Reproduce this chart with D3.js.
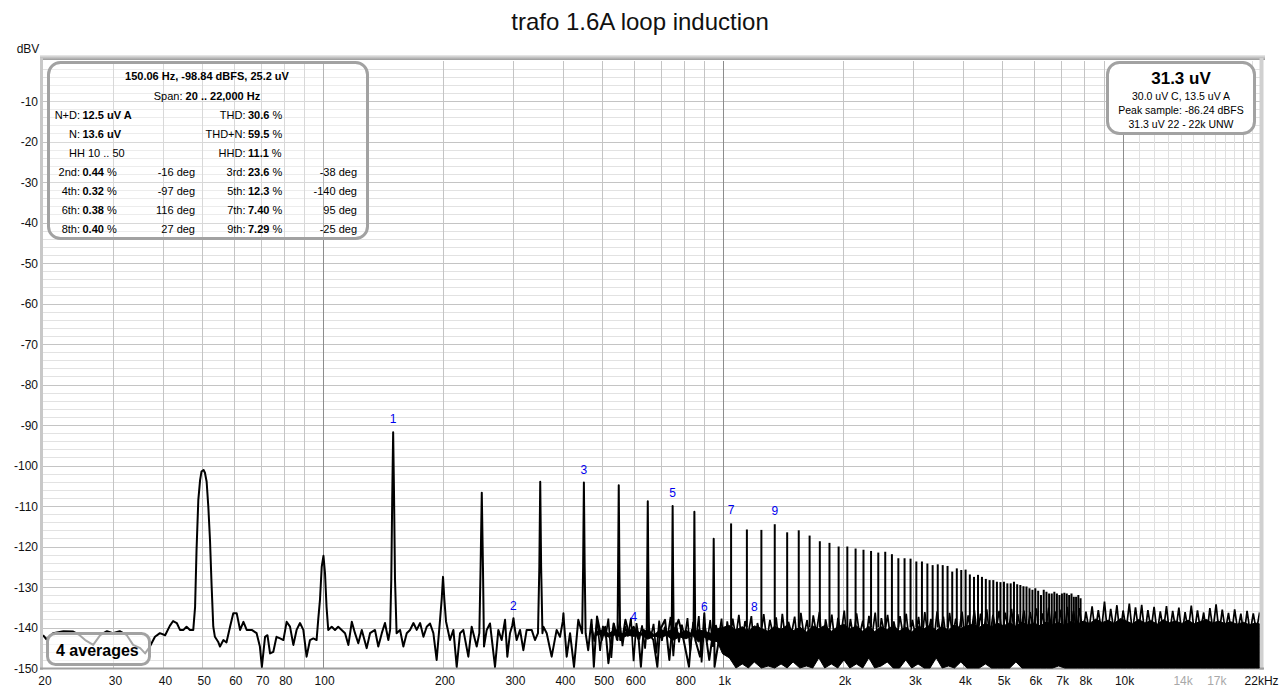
<!DOCTYPE html>
<html><head><meta charset="utf-8">
<script src="https://cdn.jsdelivr.net/npm/d3@7"></script>
<style>
body{margin:0;background:#fff;}
svg{display:block;font-family:"Liberation Sans",Arial,sans-serif;}
</style>
</head><body>
<svg id="c" width="1280" height="692"></svg>
<script>
// ---------------- DATA ----------------
const chartTitle = "trafo 1.6A loop induction";
const yUnit = "dBV";
const yTickValues = [-10,-20,-30,-40,-50,-60,-70,-80,-90,-100,-110,-120,-130,-140,-150];
const xTickValues = [20,30,40,50,60,70,80,100,200,300,400,500,600,800,1000,2000,3000,4000,5000,6000,7000,8000,10000,14000,17000,22000];
const xTickLabels = ["20","30","40","50","60","70","80","100","200","300","400","500","600","800","1k","2k","3k","4k","5k","6k","7k","8k","10k","14k","17k","22kHz"];
const xTickMuted = ["14k","17k"];

// Spectrum trace, 20 Hz .. ~1 kHz (Hz, dBV)
const traceFreq = [20.0,20.4,21.2,22.5,23.8,24.7,25.5,26.7,27.8,28.9,29.9,31.1,32.4,33.6,35.0,36.0,37.0,38.1,39.2,40.4,
 41.5,42.3,43.2,44.0,44.9,45.7,46.6,47.5,48.0,48.4,48.9,49.4,49.8,50.4,50.8,51.3,51.8,52.3,52.8,53.3,
 53.8,54.8,55.4,56.5,57.5,58.7,59.8,61.0,62.2,63.4,64.6,66.5,68.4,69.7,70.5,71.8,72.8,73.9,75.3,76.7,
 78.3,79.8,81.3,82.9,84.5,86.1,87.8,89.5,91.2,93.0,94.8,96.6,97.5,98.5,99.5,100.5,101.4,102.3,103.3,105.4,
 107.4,109.4,111.6,113.8,116.0,118.3,120.5,122.8,125.3,128.9,131.4,135.2,137.8,140.6,143.2,146.0,147.5,148.5,149.3,150.1,
 150.9,151.7,153.1,156.2,159.2,162.3,165.4,168.7,171.9,175.3,178.7,182.1,185.6,189.2,192.8,196.6,198.5,200.0,201.5,203.5,
 208.2,212.3,216.4,220.6,224.8,231.4,235.9,242.8,246.5,248.3,250.0,251.7,253.2,257.2,262.1,269.8,275.0,280.3,285.8,289.6,
 294.1,298.0,300.0,302.0,305.6,311.6,317.6,323.7,333.2,339.6,345.5,348.2,350.0,351.8,354.5,356.4,363.3,373.8,384.7,392.2,
 398.5,400.0,401.5,407.6,415.5,425.1,435.7,445.5,448.0,450.0,452.0,454.5,461.3,470.2,476.5,485.3,499.0,508.8,518.2,534.0,
 546.0,548.0,550.0,552.0,554.5,561.0,571.5,582.7,599.2,616.9,624.8,634.8,646.0,648.0,650.0,652.0,654.5,671.2,686.8,697.5,
 718.0,736.0,746.0,748.0,750.0,752.0,754.5,776.0,798.9,824.0,838.0,846.0,848.0,850.0,852.0,854.5,878.1,894.4,900.0,905.0,
 926.0,946.0,948.0,950.0,952.0,954.5,985.0,1008.0,1023.0,1040.0];
const traceDb = [-141.9,-142.9,-141.4,-140.9,-141.0,-141.9,-143.1,-144.3,-141.9,-140.9,-141.4,-140.9,-141.9,-144.3,-145.1,-146.4,-144.7,-142.3,-141.4,-141.9,
 -139.6,-138.4,-138.9,-140.6,-140.6,-139.8,-140.6,-140.6,-134.9,-120.9,-108.5,-103.6,-101.5,-101.1,-101.8,-104.0,-110.2,-118.4,-129.9,-139.8,
 -142.3,-143.5,-144.7,-143.1,-143.7,-139.8,-136.5,-136.5,-140.6,-138.6,-140.6,-140.6,-141.4,-144.7,-149.7,-142.3,-141.9,-146.4,-146.0,-142.3,
 -142.7,-143.1,-138.6,-139.8,-144.3,-140.6,-138.9,-140.6,-147.2,-143.1,-142.7,-143.1,-138.1,-133.2,-125.0,-122.3,-126.6,-134.9,-140.6,-139.8,
 -140.6,-139.8,-140.6,-141.4,-144.3,-138.6,-141.4,-143.9,-140.6,-145.1,-141.4,-140.6,-144.7,-141.4,-138.9,-143.1,-140.6,-128.0,-108.0,-91.8,
 -108.0,-128.0,-141.4,-140.6,-144.7,-141.4,-140.6,-138.9,-140.6,-138.9,-142.3,-139.8,-139.0,-141.4,-148.0,-138.1,-133.0,-127.5,-133.0,-138.5,
 -143.1,-140.6,-149.7,-141.4,-140.6,-147.2,-139.8,-144.7,-141.4,-125.0,-106.7,-125.0,-144.7,-140.6,-139.0,-149.7,-140.6,-143.1,-138.1,-147.2,
 -141.4,-139.5,-137.7,-140.0,-143.1,-140.6,-145.6,-140.6,-140.6,-143.1,-141.4,-125.0,-104.0,-125.0,-141.4,-139.8,-141.4,-147.2,-140.6,-142.3,
 -138.5,-136.5,-139.0,-147.2,-141.4,-149.7,-138.1,-141.4,-125.0,-104.2,-125.0,-141.4,-145.6,-138.1,-149.7,-137.3,-143.1,-139.8,-148.8,-139.0,
 -143.1,-125.0,-104.9,-125.0,-143.1,-143.1,-138.1,-141.4,-139.8,-143.1,-149.7,-140.6,-141.4,-126.0,-108.8,-126.0,-141.4,-143.1,-149.7,-140.6,
 -138.1,-148.0,-141.4,-127.0,-110.0,-127.0,-141.4,-138.1,-143.1,-149.7,-140.6,-141.4,-128.0,-111.4,-128.0,-143.1,-147.2,-140.6,-136.5,-141.0,
 -148.0,-141.4,-130.0,-118.1,-130.0,-149.7,-141.4,-143.1,-139.8,-141.0];

// Dense noise trace from ~470 Hz up (Hz, dBV), read as alternating local maxima / minima
const noiseFreq = [470,478,486,494,502,510,518,527,535,544,
 553,562,571,580,590,599,609,619,629,640,
 650,661,672,683,694,705,717,729,741,753,
 765,778,791,804,817,830,844,858,872,886,
 901,916,931,946,962,978,994,1010,1027,1044,
 1060,1079,1098,1118,1138,1159,1180,1201,1222,1244,
 1267,1290,1313,1337,1361,1385,1410,1435,1461,1487,
 1514,1541,1569,1597,1626,1655,1685,1715,1746,1777,
 1809,1842,1875,1909,1943,1978,2014,2050,2087,2124,
 2162,2201,2241,2281,2322,2364,2407,2450,2494,2539,
 2585,2631,2679,2727,2776,2826,2877,2929,2981,3035,
 3090,3145,3202,3259,3318,3378,3438,3500,3563,3627,
 3693,3759,3827,3896,3966,4037,4110,4184,4259,4336,
 4414,4493,4574,4656,4740,4825,4912,5001,5091,5182,
 5276,5371,5467,5566,5666,5768,5872,5978,6085,6195,
 6306,6420,6535,6653,6773,6894,7018,7145,7273,7404,
 7537,7673,7811,7952,8095,8241,8389,8540,8694,8850,
 9009,9172,9337,9505,9676,9850,10027,10208,10392,10579,
 10769,10963,11160,11361,11566,11774,11986,12202,12421,12645,
 12872,13104,13340,13580,13824,14073,14327,14584,14847,15114,
 15386,15663,15945,16232,16524,16822,17124,17433,17746,18066,
 18391,18722,19059,19402,19751,20107,20469,20837,21212,21594,
 22000];
const noiseDb = [-139.2,-143.5,-138.1,-145.8,-139.6,-142.4,-137.8,-147.5,-139.0,-143.1,
 -138.4,-144.6,-139.7,-142.2,-137.6,-148.3,-138.9,-143.0,-139.5,-145.2,
 -137.9,-142.6,-139.1,-146.4,-138.3,-143.3,-139.8,-142.1,-137.4,-147.1,
 -138.8,-143.7,-139.3,-142.5,-137.7,-145.9,-138.6,-142.9,-137.2,-148.6,
 -139.0,-143.4,-138.2,-144.8,-139.4,-142.3,-137.8,-146.7,-138.5,-143.0,
 -137.8,-142.5,-136.9,-144.0,-138.4,-141.6,-137.2,-146.0,-138.9,-142.2,
 -136.7,-143.4,-138.1,-141.8,-137.5,-145.2,-136.6,-142.7,-138.6,-141.5,
 -137.3,-144.6,-136.4,-142.0,-138.2,-143.8,-137.0,-141.4,-136.2,-145.5,
 -138.0,-142.3,-136.8,-143.9,-137.6,-141.7,-135.8,-144.2,-137.9,-142.6,
 -136.5,-141.9,-138.3,-143.5,-137.1,-142.1,-136.3,-144.8,-137.7,-141.6,
 -136.9,-143.2,-138.5,-142.4,-137.2,-141.8,-136.6,-143.7,-138.1,-142.0,
 -137.4,-144.1,-136.2,-141.9,-137.9,-142.8,-136.0,-141.5,-137.3,-143.6,
 -136.4,-142.2,-137.8,-141.4,-136.1,-143.0,-137.0,-141.6,-135.7,-142.5,
 -136.6,-141.3,-135.5,-142.7,-136.9,-140.8,-135.9,-142.0,-136.3,-141.2,
 -135.4,-142.4,-136.7,-140.9,-135.8,-141.8,-136.2,-140.6,-135.3,-142.1,
 -136.5,-141.0,-135.1,-141.7,-136.0,-140.7,-135.6,-142.3,-134.9,-141.1,
 -135.9,-140.8,-135.2,-141.9,-136.1,-140.5,-134.8,-141.4,-135.7,-140.9,
 -133.6,-141.6,-135.4,-140.7,-134.5,-142.0,-135.8,-140.6,-134.1,-141.3,
 -135.0,-140.9,-134.4,-141.8,-135.7,-140.6,-134.9,-141.5,-136.0,-140.8,
 -134.7,-141.7,-135.9,-140.7,-135.1,-142.1,-136.2,-140.9,-134.6,-141.4,
 -135.8,-140.8,-136.3,-141.9,-135.2,-140.6,-134.3,-141.5,-135.6,-140.9,
 -136.4,-141.7,-135.5,-140.8,-136.6,-142.0,-135.9,-141.2,-136.5,-140.9,
 -136.3];

// Solid body of the noise floor (Hz, upper dBV, lower dBV)
const bandFreq = [480,500,520,540,560,580,600,625,650,675,700,725,750,780,810,840,870,900,935,970,
 1000,1040,1080,1120,1160,1200,1250,1300,1350,1400,1450,1500,1560,1620,1680,1740,1800,1870,1940,2010,
 2080,2160,2240,2320,2400,2490,2580,2670,2770,2870,2970,3080,3190,3300,3420,3540,3670,3800,3940,4080,
 4230,4380,4540,4700,4870,5040,5220,5410,5600,5800,6010,6230,6450,6680,6920,7170,7430,7700,7980,8270,
 8570,8880,9200,9530,9870,10220,10590,10970,11370,11780,12200,12640,13100,13570,14060,14570,15090,15630,16190,16770,
 17380,18000,18650,19320,20020,20740,21480,22000];
const bandHi = [-141.2,-140.6,-141.5,-140.4,-141.6,-140.8,-140.5,-141.4,-140.6,-141.8,-140.4,-141.2,-140.3,-141.5,-140.7,-141.6,-140.5,-141.0,-141.4,-140.3,
 -140.0,-139.5,-140.6,-139.8,-140.9,-139.6,-140.2,-141.0,-139.7,-140.5,-139.4,-140.8,-139.9,-141.1,-139.6,-140.3,-139.5,-140.9,-139.8,-139.2,
 -140.4,-139.6,-140.9,-139.7,-141.0,-139.8,-140.5,-139.5,-140.8,-139.9,-141.1,-139.6,-140.3,-139.4,-140.7,-139.8,-140.6,-139.3,-140.2,-139.6,
 -139.2,-140.0,-139.0,-139.8,-138.9,-139.6,-138.8,-139.7,-138.7,-139.4,-138.9,-139.6,-138.6,-139.3,-138.8,-139.5,-138.5,-139.2,-138.4,-139.0,
 -137.9,-138.8,-138.2,-139.0,-137.8,-138.4,-139.1,-138.0,-138.9,-138.3,-139.2,-138.1,-138.8,-138.4,-139.0,-138.2,-139.1,-138.5,-138.0,-138.9,
 -138.4,-139.0,-138.6,-139.2,-138.7,-139.3,-138.9,-139.1];
const bandLo = [-142.0,-141.6,-142.4,-141.8,-142.6,-141.9,-142.2,-141.8,-142.9,-142.1,-142.5,-141.9,-143.2,-142.3,-142.8,-142.0,-143.6,-142.4,-143.2,-143.5,
 -146.5,-147.5,-150.0,-149.0,-150.0,-148.5,-150.0,-149.5,-150.0,-149.0,-150.0,-148.5,-150.0,-149.5,-150.0,-147.5,-150.0,-149.0,-150.0,-148.0,
 -150.0,-149.0,-150.0,-147.5,-150.0,-149.5,-148.5,-150.0,-150.0,-148.0,-150.0,-149.0,-150.0,-150.0,-147.5,-150.0,-149.5,-150.0,-148.5,-150.0,
 -150.0,-150.0,-149.0,-150.0,-150.0,-150.0,-150.0,-148.5,-150.0,-150.0,-150.0,-150.0,-150.0,-150.0,-149.5,-150.0,-150.0,-150.0,-150.0,-150.0,
 -150.0,-150.0,-150.0,-150.0,-150.0,-150.0,-150.0,-150.0,-150.0,-150.0,-150.0,-150.0,-150.0,-150.0,-150.0,-150.0,-150.0,-150.0,-150.0,-150.0,
 -150.0,-150.0,-150.0,-150.0,-150.0,-150.0,-150.0,-150.0];

// Hum-related spectral lines above 1 kHz (Hz, dBV)
const spikeFreq = [1050,1150,1250,1350,1450,1550,1650,1750,1850,1950,2050,2150,2250,2350,2450,2550,2650,2750,2850,2950,
 3050,3150,3250,3350,3450,3550,3650,3750,3850,3950,4050,4150,4250,4350,4450,4550,4650,4750,4850,4950,
 5050,5150,5250,5350,5450,5550,5650,5750,5850,5950,6050,6150,6250,6350,6450,6550,6650,6750,6850,6950,
 7050,7150,7250,7350,7450,7550,7650,7750,7850];
const spikeDb = [-114.3,-115.8,-115.9,-114.5,-116.5,-116.0,-117.3,-118.7,-119.1,-120.0,-120.0,-120.5,-120.8,-121.1,-121.5,-121.3,-121.9,-122.9,-122.9,-123.0,
 -123.7,-123.7,-124.2,-124.6,-124.4,-124.6,-124.8,-126.2,-125.4,-125.8,-125.7,-126.9,-127.5,-127.0,-127.5,-128.0,-128.3,-128.3,-128.7,-128.8,
 -128.7,-129.1,-129.1,-128.7,-129.3,-129.5,-129.8,-129.9,-130.3,-130.7,-130.3,-130.9,-132.0,-130.7,-131.2,-131.6,-131.6,-131.2,-131.6,-132.0,
 -131.6,-131.4,-131.6,-132.0,-131.6,-132.4,-132.4,-132.0,-132.8];

// Harmonic markers of the 150 Hz component
const markerLabels = ["1","2","3","4","5","6","7","8","9"];
const markerFreq = [150.06,300,450,600,750,900,1050,1200,1350];
const markerDb = [-91.8,-137.9,-104.2,-140.6,-110.0,-138.1,-114.3,-138.1,-114.5];

// Info box (top left)
const infoHeader = "150.06 Hz, -98.84 dBFS, 25.2 uV";
const infoSpanLabel = "Span: ";
const infoSpanValue = "20 .. 22,000 Hz";
const infoLeftLabels  = ["N+D:","N:","HH","2nd:","4th:","6th:","8th:"];
const infoLeftValues  = ["12.5 uV A","13.6 uV","","0.44","0.32","0.38","0.40"];
const infoLeftUnits   = ["","","10 .. 50"," %"," %"," %"," %"];
const infoLeftPhase   = ["","","","-16 deg","-97 deg","116 deg","27 deg"];
const infoRightLabels = ["THD:","THD+N:","HHD:","3rd:","5th:","7th:","9th:"];
const infoRightValues = ["30.6","59.5","11.1","23.6","12.3","7.40","7.29"];
const infoRightUnits  = [" %"," %"," %"," %"," %"," %"," %"];
const infoRightPhase  = ["","","","-38 deg","-140 deg","95 deg","-25 deg"];

// Level box (top right)
const levelMain = "31.3 uV";
const levelLines = ["30.0 uV C, 13.5 uV A","Peak sample: -86.24 dBFS","31.3 uV 22 - 22k UNW"];
const averagesText = "4 averages";

// ---------------- DRAW ----------------
const svg = d3.select("#c");
const L = 43, R = 1259.6, T = 60.5, B = 668;
const x = d3.scaleLog().domain([20,22000]).range([L,R]);
const y = d3.scaleLinear().domain([-150,0]).range([B,T]);
const px = v => Math.round(v) + 0.5;

svg.append("text").attr("x",640).attr("y",30).attr("text-anchor","middle")
  .attr("font-size",24).attr("fill","#111").text(chartTitle);

// grid
const grid = svg.append("g").attr("shape-rendering","crispEdges");
const hVals = d3.range(-148,0,2);
grid.selectAll("line.h").data(hVals).join("line")
  .attr("x1",L).attr("x2",R).attr("y1",d=>px(y(d))).attr("y2",d=>px(y(d)))
  .attr("stroke",d=>d%10===0?"#c4c4c4":"#e2e2e2");
const vVals = [];
[10,100,1000,10000].forEach(dec=>{for(let m=1;m<10;m++){const f=m*dec; if(f>20 && f<22000) vVals.push({f, kind: m===1?"dec":"min"});}});
d3.range(11000,22000,1000).forEach(f=>{ if(f!==20000) vVals.push({f, kind:"light"}); });
const vCol = {dec:"#8c8c8c", min:"#c4c4c4", light:"#e0e0e0"};
grid.selectAll("line.v").data(vVals).join("line")
  .attr("x1",d=>px(x(d.f))).attr("x2",d=>px(x(d.f))).attr("y1",T).attr("y2",B)
  .attr("stroke",d=>vCol[d.kind]);

// frame
const defs = svg.append("defs");
const grad = defs.append("linearGradient").attr("id","topg").attr("x1",0).attr("x2",0).attr("y1",0).attr("y2",1);
grad.append("stop").attr("offset","0%").attr("stop-color","#ececec");
grad.append("stop").attr("offset","100%").attr("stop-color","#9a9a9a");
svg.append("rect").attr("x",40).attr("y",55).attr("width",1225).attr("height",5).attr("fill","url(#topg)");
svg.append("rect").attr("x",40).attr("y",58).attr("width",3).attr("height",612).attr("fill","#c8c8c8");
svg.append("rect").attr("x",1259.5).attr("y",58).attr("width",4).attr("height",612).attr("fill","#d0d0d0");
svg.append("line").attr("x1",40).attr("x2",1264).attr("y1",668.5).attr("y2",668.5).attr("stroke","#a0a0a0").attr("stroke-width",2);

defs.append("clipPath").attr("id","clip").append("rect").attr("x",L).attr("y",T).attr("width",R-L).attr("height",B-T+1);
const plot = svg.append("g").attr("clip-path","url(#clip)");

// noise body
const band = bandFreq.map((f,i)=>({f, hi:bandHi[i], lo:bandLo[i]}));
plot.append("path").datum(band)
  .attr("d", d3.area().x(d=>x(d.f)).y0(d=>y(d.lo)).y1(d=>y(d.hi)))
  .attr("fill","#000").attr("stroke","#000").attr("stroke-width",1);

const line = d3.line().x(d=>x(d.f)).y(d=>y(d.v));
// dense noise trace
const noise = noiseFreq.map((f,i)=>({f, v:noiseDb[i]}));
plot.append("path").datum(noise)
  .attr("d", line)
  .attr("fill","none").attr("stroke","#000").attr("stroke-width",1.7).attr("stroke-linejoin","miter");

// low-frequency trace
const trace = traceFreq.map((f,i)=>({f, v:traceDb[i]}));
plot.append("path").datum(trace)
  .attr("d", line)
  .attr("fill","none").attr("stroke","#000").attr("stroke-width",2).attr("stroke-linejoin","round");

// spikes
plot.selectAll("line.sp").data(spikeFreq.map((f,i)=>({f,v:spikeDb[i]}))).join("line")
  .attr("x1",d=>x(d.f)).attr("x2",d=>x(d.f)).attr("y1",y(-140)).attr("y2",d=>y(d.v))
  .attr("stroke","#000").attr("stroke-width",2);

// harmonic markers
svg.selectAll("text.mk").data(markerLabels.map((t,i)=>({t,f:markerFreq[i],v:markerDb[i]}))).join("text")
  .attr("x",d=>x(d.f)).attr("y",d=>y(d.v)-9).attr("text-anchor","middle")
  .attr("font-size",12).attr("fill","#0000ee").text(d=>d.t);

// axis labels
svg.append("text").attr("x",28).attr("y",53).attr("text-anchor","middle").attr("font-size",12).attr("fill","#111").text(yUnit);
svg.selectAll("text.yt").data(yTickValues).join("text")
  .attr("x",38).attr("y",d=>y(d)+4.5).attr("text-anchor","end").attr("font-size",12).attr("fill","#111")
  .text(d=>d);
svg.selectAll("text.xt").data(xTickValues.map((f,i)=>({f,t:xTickLabels[i]}))).join("text")
  .attr("x",d=>x(d.f)+2).attr("y",685).attr("text-anchor","middle").attr("font-size",12)
  .attr("fill",d=>xTickMuted.includes(d.t)?"#a8a8a8":"#111").text(d=>d.t);

// info box
svg.append("rect").attr("x",48.5).attr("y",62.5).attr("width",319).attr("height",176).attr("rx",12)
  .attr("fill","#fff").attr("fill-opacity",0.35).attr("stroke","#a2a2a2").attr("stroke-width",3);
const fs = 11;
svg.append("text").attr("x",207).attr("y",80).attr("text-anchor","middle").attr("font-size",fs)
  .attr("font-weight","bold").text(infoHeader);
const sp = svg.append("text").attr("x",207).attr("y",99.5).attr("text-anchor","middle").attr("font-size",fs);
sp.append("tspan").text(infoSpanLabel);
sp.append("tspan").attr("font-weight","bold").text(infoSpanValue);
const rowY = [119,138,157,176,195,214,233];
infoLeftLabels.forEach((lab,i)=>{
  const yy = rowY[i];
  if (lab === "HH") {
    svg.append("text").attr("x",69).attr("y",yy).attr("font-size",fs).text(lab+" "+infoLeftUnits[i]);
  } else {
    svg.append("text").attr("x",80).attr("y",yy).attr("text-anchor","end").attr("font-size",fs).text(lab);
    const t = svg.append("text").attr("x",82.5).attr("y",yy).attr("font-size",fs);
    t.append("tspan").attr("font-weight","bold").text(infoLeftValues[i]);
    t.append("tspan").text(infoLeftUnits[i]);
  }
  if (infoLeftPhase[i]) svg.append("text").attr("x",195).attr("y",yy).attr("text-anchor","end").attr("font-size",fs).text(infoLeftPhase[i]);
  svg.append("text").attr("x",245.5).attr("y",yy).attr("text-anchor","end").attr("font-size",fs).text(infoRightLabels[i]);
  const t2 = svg.append("text").attr("x",248).attr("y",yy).attr("font-size",fs);
  t2.append("tspan").attr("font-weight","bold").text(infoRightValues[i]);
  t2.append("tspan").text(infoRightUnits[i]);
  if (infoRightPhase[i]) svg.append("text").attr("x",357).attr("y",yy).attr("text-anchor","end").attr("font-size",fs).text(infoRightPhase[i]);
});

// level box
svg.append("rect").attr("x",1107.5).attr("y",62.5).attr("width",147).attr("height",71).attr("rx",12)
  .attr("fill","#fff").attr("stroke","#a2a2a2").attr("stroke-width",3);
svg.append("text").attr("x",1181).attr("y",84).attr("text-anchor","middle").attr("font-size",17)
  .attr("font-weight","bold").text(levelMain);
levelLines.forEach((t,i)=>{
  svg.append("text").attr("x",1181).attr("y",100+i*14).attr("text-anchor","middle").attr("font-size",10.5).text(t);
});

// averages box
svg.append("rect").attr("x",47.5).attr("y",633.5).attr("width",102).attr("height",31).attr("rx",8)
  .attr("fill","#fff").attr("fill-opacity",0.65).attr("stroke","#a2a2a2").attr("stroke-width",3);
svg.append("text").attr("x",56).attr("y",656).attr("font-size",16).attr("font-weight","bold").text(averagesText);
</script>
</body></html>
